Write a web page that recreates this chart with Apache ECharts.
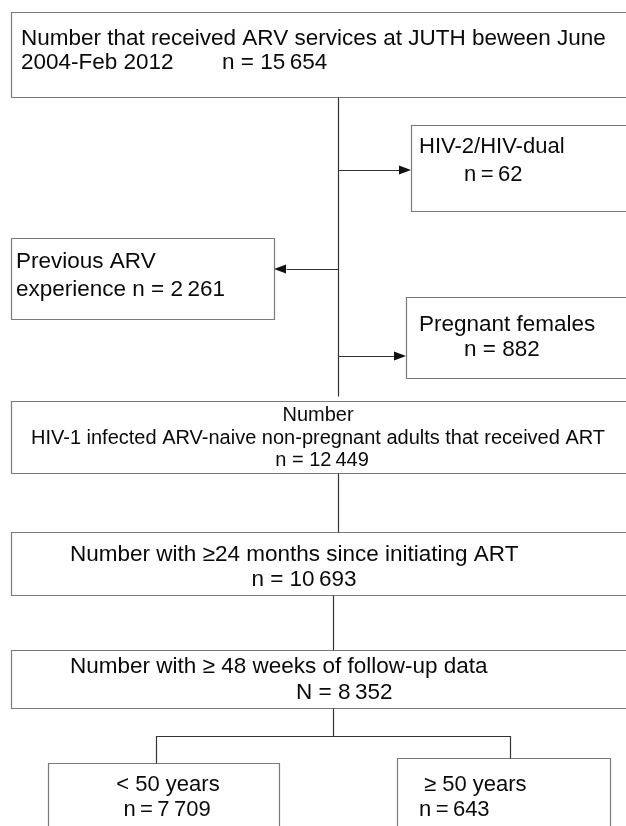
<!DOCTYPE html>
<html>
<head>
<meta charset="utf-8">
<script src="https://cdn.jsdelivr.net/npm/echarts@6/dist/echarts.min.js"></script>
<style>html,body{margin:0;padding:0;background:#fff}#c{width:626px;height:826px}</style>
</head>
<body>
<div id="c"></div>
<script>
// ---- data ----
const counts = [15654, 62, 2261, 882, 12449, 10693, 8352, 7709, 643];
const countPrefix = ['n = ', 'n\u2009=\u2009', 'n = ', 'n = ', 'n = ', 'n = ', 'N = ', 'n\u2009=\u2009', 'n\u2009=\u2009'];
const boxTexts = [
  ['Number that received ARV services at JUTH beween June', '2004-Feb 2012', '{n}'],
  ['HIV-2/HIV-dual', '{n}'],
  ['Previous ARV', 'experience {n}'],
  ['Pregnant females', '{n}'],
  ['Number', 'HIV-1 infected ARV-naive non-pregnant adults that received ART', '{n}'],
  ['Number with \u226524 months since initiating ART', '{n}'],
  ['Number with \u2265 48 weeks of follow-up data', '{n}'],
  ['< 50 years', '{n}'],
  ['\u2265 50 years', '{n}']
];

// ---- layout (pixel units on hidden axes) ----
const boxRects = [
  [11, 12, 625, 85], [411, 125, 225, 86], [11, 238, 263, 81], [406, 297, 230, 81],
  [11, 401, 625, 72], [11, 532, 625, 63], [11, 650, 625, 58], [48, 763, 231, 80], [397, 758, 213, 80]
];
const textPos = [
  [[21, 39, 'left'], [21, 63, 'left'], [222, 63, 'left']],
  [[419, 147, 'left'], [464, 175, 'left']],
  [[16, 262, 'left'], [16, 290, 'left']],
  [[419, 325, 'left'], [464, 350, 'left']],
  [[318, 415, 'center'], [318, 438, 'center'], [322, 460, 'center']],
  [[70, 555, 'left'], [304, 580, 'center']],
  [[70, 667, 'left'], [296, 693, 'left']],
  [[168, 785, 'center'], [167, 810, 'center']],
  [[424, 785, 'left'], [419, 810, 'left']]
];
const boxFontSize = [22.5, 22, 22.5, 22.5, 20, 22.5, 22.5, 22, 22];
const connectors = [
  {pts: [[338, 97], [338, 396]]},
  {pts: [[338, 170], [411, 170]], arrow: true},
  {pts: [[338, 269], [274, 269]], arrow: true},
  {pts: [[338, 356], [406, 356]], arrow: true},
  {pts: [[338, 473], [338, 532]]},
  {pts: [[333, 595], [333, 650]]},
  {pts: [[333, 708], [333, 736]]},
  {pts: [[156, 763], [156, 736], [510, 736], [510, 758]]}
];

function fmt(v) {
  return String(v).replace(/\B(?=(\d{3})+(?!\d))/g, '\u2009');
}

const FAMILY = '"Liberation Sans", Arial, sans-serif';

const chart = echarts.init(document.getElementById('c'));
chart.setOption({
  animation: false,
  grid: {left: 0, right: 0, top: 0, bottom: 0},
  xAxis: {type: 'value', min: 0, max: 626, show: false},
  yAxis: {type: 'value', min: 0, max: 826, inverse: true, show: false},
  series: [
    {
      type: 'custom',
      clip: false,
      data: counts.map((c, i) => [i, c]),
      renderItem: function (params, api) {
        const i = api.value(0);
        const r = boxRects[i];
        const p0 = api.coord([r[0], r[1]]);
        const p1 = api.coord([r[0] + r[2], r[1] + r[3]]);
        const children = [{
          type: 'rect',
          shape: {x: p0[0] + 0.5, y: p0[1] + 0.5, width: p1[0] - p0[0], height: p1[1] - p0[1]},
          style: {fill: '#fff', stroke: '#7a7a7a', lineWidth: 1.2}
        }];
        boxTexts[i].forEach((t, k) => {
          const pos = textPos[i][k];
          const q = api.coord([pos[0], pos[1]]);
          const txt = t.replace('{n}', countPrefix[i] + fmt(api.value(1)));
          children.push({
            type: 'text',
            style: {text: txt, x: q[0], y: q[1], font: boxFontSize[i] + 'px ' + FAMILY, fill: '#0a0a0a', align: pos[2], verticalAlign: 'middle'}
          });
        });
        return {type: 'group', children: children};
      }
    },
    {
      type: 'custom',
      clip: false,
      data: connectors.map((c, i) => i),
      renderItem: function (params, api) {
        const c = connectors[api.value(0)];
        const pts = c.pts.map(p => api.coord(p));
        const children = [];
        let linePts = pts.slice();
        if (c.arrow) {
          const a = pts[pts.length - 2], b = pts[pts.length - 1];
          const dx = b[0] - a[0], dy = b[1] - a[1];
          const len = Math.sqrt(dx * dx + dy * dy);
          const ux = dx / len, uy = dy / len;
          const L = 12, W = 4.5;
          const base = [b[0] - ux * L, b[1] - uy * L];
          linePts[linePts.length - 1] = base;
          children.push({
            type: 'polygon',
            shape: {points: [b, [base[0] - uy * W, base[1] + ux * W], [base[0] + uy * W, base[1] - ux * W]]},
            style: {fill: '#111'}
          });
        }
        children.unshift({
          type: 'polyline',
          shape: {points: linePts.map(p => [Math.round(p[0]) + 0.5, Math.round(p[1]) + 0.5])},
          style: {stroke: '#333', lineWidth: 1.2, fill: null}
        });
        return {type: 'group', children: children};
      }
    }
  ]
});
</script>
</body>
</html>
